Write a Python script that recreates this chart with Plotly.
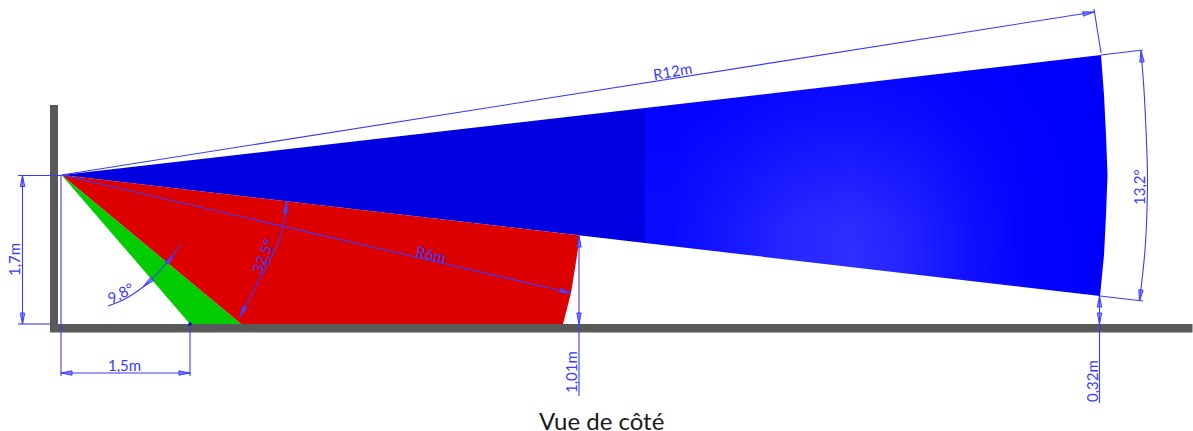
import math
import plotly.graph_objects as go

# --- drawing values (pixel-like drawing units) ---
wall_x = [50, 58, 58, 50]
wall_y = [105, 105, 332, 332]
ground_x = [50, 1192.5, 1192.5, 50]
ground_y = [324, 324, 332.5, 332.5]

apex = (61.5, 175)
green_x = [61.5, 241, 190]
green_y = [175, 324, 324]
red_x = [61.5, 580, 576, 571, 563, 241]
red_y = [175, 235.5, 262, 293, 324, 324]
blue_near_x = [61.5, 645, 645]
blue_near_y = [175, 108, 243]

arc_end_x = [1101, 1104, 1106, 1107.5, 1106, 1104, 1100]
arc_end_y = [55, 95, 135, 175, 215, 255, 296]

grad_x = [645, 700, 760, 820, 880, 940, 1000, 1050, 1110]
grad_y = [50, 100, 150, 200, 250, 325]
grad_level = [
    [1, 3, 6, 8, 6, 2, 0, 0],
    [4, 9, 15, 17, 13, 6, 1, 0],
    [8, 17, 27, 31, 24, 11, 2, 0],
    [10, 23, 38, 45, 33, 15, 3, 0],
    [10, 23, 38, 48, 35, 16, 3, 0],
]

mask_top_x = [645, 1101, 1150, 1150, 645]
mask_top_y = [108, 55, 55, 20, 20]
mask_right_x = arc_end_x + [1150, 1150]
mask_right_y = arc_end_y + [296, 55]
mask_bottom_x = [645, 1100, 1150, 1150, 645]
mask_bottom_y = [243, 296, 296, 330, 330]

dim_lines = {
    "r12": ([61.5, 1094], [175, 12]),
    "r12_ext": ([1094, 1101], [9, 53]),
    "a13_top": ([1101, 1143], [55, 50]),
    "a13_bottom": ([1100, 1143], [296, 301]),
    "a13_arc": ([1141, 1144, 1146, 1147.5, 1147, 1145, 1142, 1139.5], [51, 90, 130, 175, 210, 250, 280, 301]),
    "r6": ([61.5, 571], [175, 293]),
    "h101": ([579, 579], [236, 396]),
    "h032": ([1099.5, 1099.5], [296, 403]),
    "h17_top": ([18, 61], [175.5, 175.5]),
    "h17_bottom": ([18, 50], [324, 324]),
    "h17": ([22.5, 22.5], [175.5, 324]),
    "w15_left": ([61, 61], [175, 376]),
    "w15_right": ([190, 190], [324, 376]),
    "w15": ([61, 190], [373, 373]),
    "a98": ([108, 125, 143, 158, 170, 181], [306, 299, 287, 273, 258, 245]),
    "a325": ([287, 284, 279, 270, 256, 240], [202, 222, 240, 260, 286, 317]),
}
# arrow tip x, tip y, tail x, tail y
arrow_tip_x = [1094, 1141, 1139.5, 571, 579, 579, 1099.5, 1099.5, 22.5, 22.5, 61, 190, 143, 174, 287, 240]
arrow_tip_y = [12, 51, 301, 293, 236, 324, 296, 324, 175.5, 324, 373, 373, 287, 255, 202, 317]
arrow_tail_x = [1083, 1142, 1141, 560, 579, 579, 1099.5, 1099.5, 22.5, 22.5, 72, 179, 152, 167, 285, 245]
arrow_tail_y = [14, 62, 290, 290.5, 247, 313, 307, 313, 186.5, 313, 373, 373, 279, 263, 213, 307]

labels = ["R12m", "R6m", "32,5°", "9,8°", "1,7m", "1,5m", "1,01m", "0,32m", "13,2°"]
label_x = [672, 431, 263, 120, 14, 124, 571, 1092, 1139]
label_y = [71, 254, 256, 293, 260, 365, 372, 381, 187]
label_angle = [-10, 13, -68, -27, -90, 0, -90, -90, -90]

caption = "Vue de côté"
caption_x, caption_y = 601, 420

LINE = "#3a3aff"
fig = go.Figure()


def poly(x, y, color):
    fig.add_trace(go.Scatter(x=x, y=y, mode="lines", fill="toself", fillcolor=color,
                             line=dict(width=0, color=color), hoverinfo="skip", showlegend=False))


fig.add_trace(go.Heatmap(x=grad_x, y=grad_y, z=grad_level, zmin=0, zmax=51, zsmooth="best",
                         colorscale=[[0, "#0000ff"], [1, "#3333ff"]], showscale=False, hoverinfo="skip"))
poly(mask_top_x, mask_top_y, "#ffffff")
poly(mask_right_x, mask_right_y, "#ffffff")
poly(mask_bottom_x, mask_bottom_y, "#ffffff")
poly(blue_near_x, blue_near_y, "#0000e0")
poly(red_x, red_y, "#dd0000")
poly(green_x, green_y, "#00cc00")
poly(wall_x, wall_y, "#595959")
poly(ground_x, ground_y, "#595959")

for name, (lx, ly) in dim_lines.items():
    fig.add_trace(go.Scatter(x=lx, y=ly, mode="lines", name=name, showlegend=False, hoverinfo="skip",
                             line=dict(color=LINE, width=1.1, shape="spline" if len(lx) > 2 else "linear")))

for tx, ty, bx, by in zip(arrow_tip_x, arrow_tip_y, arrow_tail_x, arrow_tail_y):
    length = math.hypot(tx - bx, ty - by)
    nx, ny = -(ty - by) / length * 2.2, (tx - bx) / length * 2.2
    fig.add_trace(go.Scatter(x=[tx, bx + nx, bx - nx, tx], y=[ty, by + ny, by - ny, ty], mode="lines",
                             fill="toself", fillcolor="rgba(90,90,255,0.55)", line=dict(color=LINE, width=1),
                             hoverinfo="skip", showlegend=False))

fig.add_trace(go.Scatter(x=[190], y=[324], mode="markers", marker=dict(color="#0000cc", size=3.5),
                         hoverinfo="skip", showlegend=False))

for t, x, y, a in zip(labels, label_x, label_y, label_angle):
    fig.add_annotation(x=x, y=y, text=t, textangle=a, showarrow=False, xanchor="center", yanchor="middle",
                       font=dict(family="Lato", size=15, color=LINE))
fig.add_annotation(x=caption_x, y=caption_y, text=caption, showarrow=False, xanchor="center", yanchor="middle",
                   font=dict(family="Lato", size=24, color="#1a1a1a"))

fig.update_layout(width=1193, height=431, margin=dict(l=0, r=0, t=0, b=0),
                  paper_bgcolor="#ffffff", plot_bgcolor="#ffffff", showlegend=False,
                  xaxis=dict(range=[0, 1193], visible=False, fixedrange=True),
                  yaxis=dict(range=[431, 0], visible=False, fixedrange=True))
fig.write_html("out.html", config=dict(displayModeBar=False),
               post_script="document.body.style.margin='0';")
